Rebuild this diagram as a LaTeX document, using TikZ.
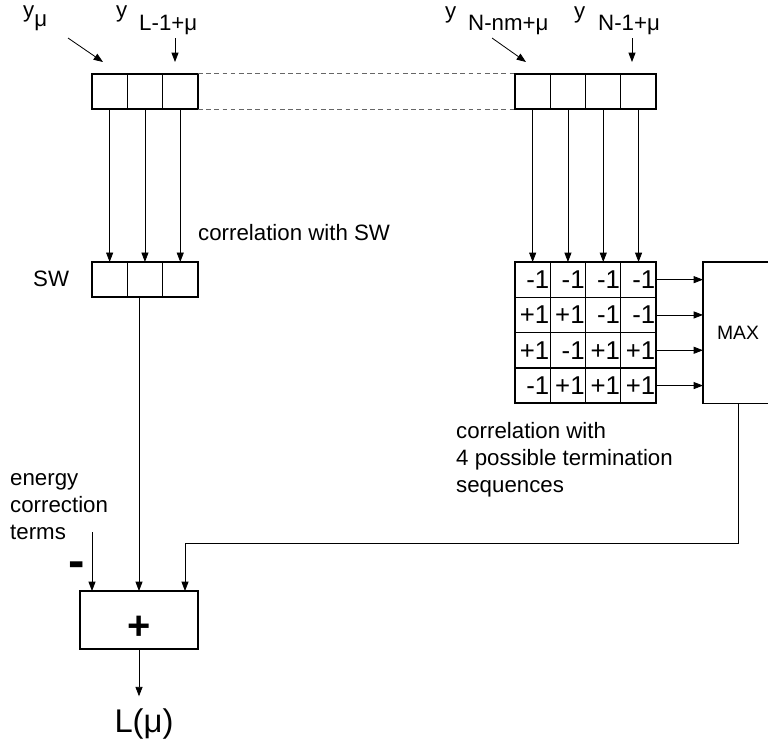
\documentclass[tikz,border=0pt]{standalone}
\usepackage{fontspec}
\setmainfont{Liberation Sans}
\usepackage{tikz}
\usetikzlibrary{arrows.meta,positioning,calc}

\begin{document}
\begin{tikzpicture}[
  x=0.03cm, y=-0.03cm,
  font=\fontsize{19}{23}\selectfont,
  cell/.style={draw, line width=0.8pt, minimum width=1.06cm, minimum height=1.06cm,
    inner sep=0pt, outer sep=0pt},
  mcell/.style={cell, text width=1.0cm, inner xsep=0.03cm, align=right,
    font=\fontsize{22}{22}\selectfont},
  frame/.style={line width=1.4pt},
  box/.style={draw, line width=1.2pt, inner sep=0pt, outer sep=0pt},
  arr/.style={-{Triangle[length=8pt, width=6pt]}, line width=0.7pt},
  gap/.style={dash pattern=on 4pt off 3pt, line width=0.8pt, black!60},
  lbl/.style={inner sep=0pt, anchor=base west}
]
\useasboundingbox (0,0) rectangle (768,746);

% registers
\foreach \i in {1,2,3} {
  \node[cell] (t\i) at ({74.35+35.3*\i},91.5) {};
  \node[cell] (s\i) at ({74.35+35.3*\i},279.6) {};
}
\foreach \i in {1,...,4}
  \node[cell] (r\i) at ({497.35+35.3*\i},91.5) {};
\foreach [count=\j] \vals in {{-1,-1,-1,-1},{+1,+1,-1,-1},{+1,-1,+1,+1},{-1,+1,+1,+1}}
  \foreach [count=\i] \v in \vals
    \node[mcell] (m\j\i) at ({497.35+35.3*\i},{244.35+35.3*\j}) {\v};

\draw[frame] (t1.north west) rectangle (t3.south east);
\draw[frame] (s1.north west) rectangle (s3.south east);
\draw[frame] (r1.north west) rectangle (r4.south east);
\draw[frame] (m11.north west) rectangle (m44.south east);
\foreach \j in {1,2,3}
  \draw[frame] (m\j1.south west) -- (m\j4.south east);
\draw[gap] (t3.north east) -- (r1.north west);
\draw[gap] (t3.south east) -- (r1.south west);

\node[box, minimum width=2.1cm, minimum height=4.236cm,
  font=\fontsize{16.5}{18}\selectfont] (max) at (738,332.6) {MAX};
\node[box, minimum width=3.54cm, minimum height=1.74cm,
  font=\fontsize{34}{34}\selectfont\bfseries] (plus) at (139,620) {\raisebox{-17pt}[0pt][0pt]{+}};
\node[inner sep=0pt, inner ysep=10pt, anchor=base,
  font=\fontsize{28}{28}\selectfont] (lmu) at (144,732) {L(μ)};

% labels
\node[lbl] (ymu) at (23,17.5) {y\raisebox{-7.5pt}{μ}};
\node[lbl] (yL) at (116,17) {y};
\node[lbl] (yLsub) at (139,30) {L-1+μ};
\node[lbl] (yN) at (445,18) {y};
\node[lbl] (yNsub) at (468,30) {N-nm+μ};
\node[lbl] (yN1) at (574,18) {y};
\node[lbl] (yN1sub) at (598,30) {N-1+μ};
\node[lbl] (sw) at (33,286) {SW};
\node[lbl] (corrsw) at (198,240) {correlation with SW};
\node[lbl, align=left] (corrterm) at (456,492) {correlation with\\4 possible termination\\sequences};
\node[lbl, align=left] (energy) at (10,539) {energy\\correction\\terms};
\node[inner sep=0pt, font=\fontsize{42}{42}\selectfont\bfseries] (minus) at (76.5,570) {-};

\coordinate (ymu-from) at (68,38);
\coordinate (ymu-to) at (103,62);
\coordinate (yL-from) at (175,38);
\coordinate (yL-to) at (175,62);
\coordinate (yN-from) at (492,38);
\coordinate (yN-to) at (526,62);
\coordinate (yN1-from) at (632,38);
\coordinate (yN1-to) at (632,62);
\coordinate (ein) at (92,532);
\coordinate (bend) at (738,543);

\draw[arr] (ymu-from) -- (ymu-to);
\draw[arr] (yL-from) -- (yL-to);
\draw[arr] (yN-from) -- (yN-to);
\draw[arr] (yN1-from) -- (yN1-to);

\foreach \i in {1,2,3}
  \draw[arr] (t\i.south) -- (s\i.north);
\foreach \i in {1,...,4}
  \draw[arr] (r\i.south) -- (m1\i.north);
\foreach \j in {1,...,4}
  \draw[arr] (m\j4.east) -- (max.west |- m\j4.east);

\draw[arr] (s2.south -| plus.north) -- (plus.north);
\draw[arr] (ein) -- (ein |- plus.north);
\draw[arr] (max.south) -- (bend) -| ($(plus.north)+(46,0)$);
\draw[arr] (plus.south) -- (plus.south |- lmu.north);
\end{tikzpicture}
\end{document}
